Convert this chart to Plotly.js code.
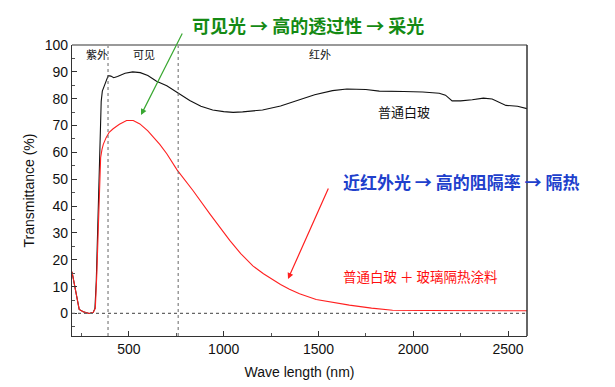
<!DOCTYPE html>
<html>
<head>
<meta charset="utf-8">
<script src="https://cdn.plot.ly/plotly-3.0.1.min.js"></script>
<style>html,body{margin:0;padding:0;background:#fff;}#chart{width:615px;height:387px;}</style>
</head>
<body>
<div id="chart"></div>
<script>
// Plain glass (普通白玻)
const blackWave = [200,216,228,238,259,291,312,321,328,334,340,348,354,360,368,378,391,405,420,440,480,520,560,600,646,700,751,821,880,942,1000,1050,1100,1205,1300,1383,1480,1574,1650,1750,1821,1950,2050,2137,2170,2205,2250,2311,2370,2416,2450,2489,2550,2600];
const blackT = [15.5,9.9,5.6,1.5,0.6,0,0.4,1.9,12,28,42,65,79,82.8,84.3,86.2,88.6,88.4,87.8,88.3,89.5,90,89.7,88.6,86.5,84.8,82.4,79.3,77.2,75.8,75.2,74.9,75.1,75.8,77.3,79.3,81.5,83,83.6,83.4,82.8,82.7,82.5,82,81.3,79.2,79.2,79.6,80.2,79.9,78.8,77.5,77.2,76.3];
// Plain glass + heat-insulating coating
const redWave = [200,216,228,238,259,291,312,323,331,339,346,351,358,365,380,396,417,450,488,523,558,600,663,700,754,838,926,980,1032,1090,1154,1210,1259,1300,1347,1400,1488,1580,1663,1780,1891,2067,2300,2600];
const redT = [15.5,9.9,5.6,1.5,0.6,0,0.4,1.9,15,31,45,58,61,63,65.5,67.5,68.8,70.5,71.9,71.9,70.6,68,63,59.5,53.5,45.8,37.2,32,27.2,22.3,17.7,14.8,12.5,10.8,9,7.3,5.2,4,3.1,2,1.2,1.1,1.05,1.0];
const regionLines = [390, 760];
const xTicks = [500,1000,1500,2000,2500];

const L=72, R=527, T=45, B=336;
const px = x => (x-L)/(R-L);
const py = y => (B-y)/(B-T);
const cjk = '"Noto Sans CJK SC", sans-serif';

const traces = [
  {x: blackWave, y: blackT, mode:'lines', line:{color:'#111', width:1.1}, hoverinfo:'skip'},
  {x: redWave, y: redT, mode:'lines', line:{color:'#ff2020', width:1.1}, hoverinfo:'skip'}
];

const shapes = [
  {type:'line', xref:'x', yref:'paper', x0:regionLines[0], x1:regionLines[0], y0:0, y1:1, line:{color:'#666', width:1, dash:'dot'}},
  {type:'line', xref:'x', yref:'paper', x0:regionLines[1], x1:regionLines[1], y0:0, y1:1, line:{color:'#666', width:1, dash:'dot'}},
  {type:'line', xref:'paper', yref:'y', x0:0, x1:1, y0:0, y1:0, line:{color:'#666', width:1.2, dash:'dot'}},
  {type:'line', xref:'paper', yref:'paper', x0:0, x1:1, y0:1, y1:1, line:{color:'#999', width:2}},
  {type:'line', xref:'paper', yref:'paper', x0:1, x1:1, y0:0, y1:1, line:{color:'#333', width:1.5}}
];

function label(xp, yp, text, size, color) {
  return {xref:'paper', yref:'paper', x:px(xp), y:py(yp), xanchor:'center', yanchor:'middle',
    text:text, showarrow:false, font:{family:cjk, size:size, color:color}};
}

const annotations = [
  label(308, 25, '<b>可见光 → 高的透过性 → 采光</b>', 18, '#148a14'),
  label(461, 181, '<b>近红外光 → 高的阻隔率 → 隔热</b>', 17, '#2040cc'),
  label(404, 112, '普通白玻', 13, '#111'),
  label(420, 276, '普通白玻 ＋ 玻璃隔热涂料', 13.5, '#ff1010'),
  label(96.5, 54, '紫外', 11, '#111'),
  label(144, 54, '可见', 11, '#111'),
  label(320, 54, '红外', 11, '#111'),
  {xref:'paper', yref:'paper', x:px(141), y:py(115), text:'', showarrow:true, ax:42, ay:-83, arrowcolor:'#3aa832', arrowwidth:1.2, arrowhead:2, arrowsize:1},
  {xref:'paper', yref:'paper', x:px(288), y:py(279), text:'', showarrow:true, ax:41, ay:-92, arrowcolor:'#ff2020', arrowwidth:1.2, arrowhead:2, arrowsize:1}
];

const layout = {
  width:615, height:387,
  margin:{l:L, r:615-R, t:T, b:387-B},
  paper_bgcolor:'#fff', plot_bgcolor:'#fff',
  showlegend:false,
  font:{family:'"Liberation Sans", Arial, sans-serif', size:14, color:'#111'},
  xaxis:{range:[200,2600], tickvals:xTicks, ticks:'inside', ticklen:5, tickcolor:'#333',
    minor:{dtick:250, tick0:0, ticks:'inside', ticklen:3, tickcolor:'#555'},
    showgrid:false, zeroline:false, showline:true, linecolor:'#333', linewidth:1.2,
    title:{text:'Wave length (nm)', font:{size:14}, standoff:11}},
  yaxis:{range:[-8.4,100], dtick:10, tick0:0, ticks:'inside', ticklen:5, tickcolor:'#333',
    minor:{dtick:5, ticks:'inside', ticklen:3, tickcolor:'#555'},
    showgrid:false, zeroline:false, showline:true, linecolor:'#333', linewidth:1.2,
    title:{text:'Transmittance (%)', font:{size:14}, standoff:6}},
  shapes:shapes, annotations:annotations
};

Plotly.newPlot('chart', traces, layout, {staticPlot:true, displayModeBar:false});
</script>
</body>
</html>
